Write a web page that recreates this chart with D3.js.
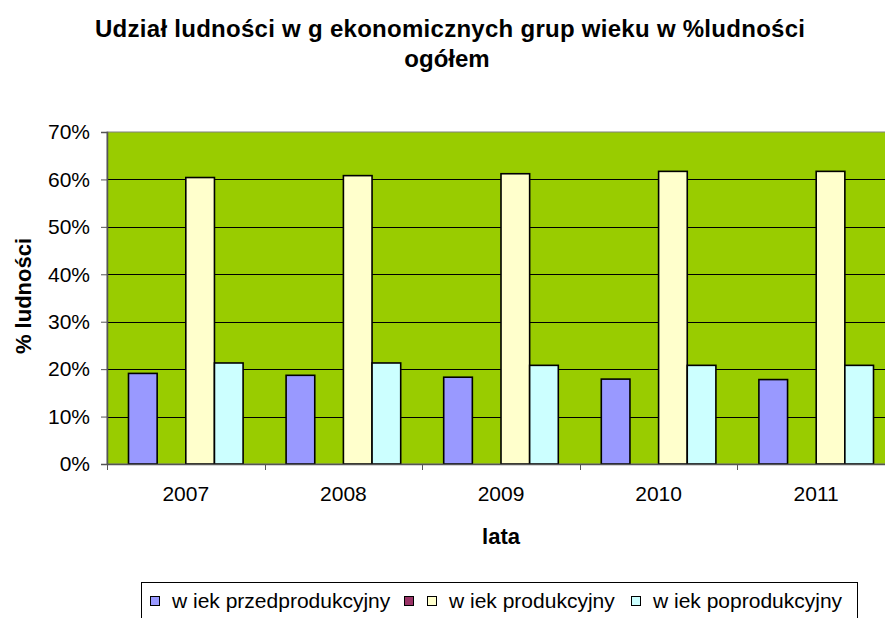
<html>
  <head>
    <script src="https://d3js.org/d3.v7.min.js"></script>
  </head>
  <style type="text/css">
    body {
      margin: 0;
      background: #fff;
    }
    svg {
      font-family: "Liberation Sans", Arial, sans-serif;
    }
    .axis-title {
      font-size: 22px;
      font-weight: bold;
    }
    .legend-text {
      font-size: 21px;
    }
  </style>
  <body>
    <div id="chart"></div>
  </body>
  <script type="text/javascript">
    var years = ["2007", "2008", "2009", "2010", "2011"];
    var seriesNames = ["w iek przedprodukcyjny", "", "w iek produkcyjny", "w iek poprodukcyjny"];
    var seriesColors = ["#9999FF", "#993366", "#FFFFCC", "#CCFFFF"];
    // the second series has no values (shows up only in the legend)
    var przedprodukcyjny = [19.1, 18.7, 18.3, 17.9, 17.8];
    var pusty = [null, null, null, null, null];
    var produkcyjny = [60.4, 60.8, 61.2, 61.7, 61.7];
    var poprodukcyjny = [21.3, 21.3, 20.8, 20.8, 20.8];
    var yTicks = [0, 10, 20, 30, 40, 50, 60, 70];

    var values = [przedprodukcyjny, pusty, produkcyjny, poprodukcyjny];

    var width = 885;
    var height = 618;
    var plot = {left: 107, top: 132, right: 895, bottom: 464};

    var svg = d3.select("#chart").append("svg")
      .attr("width", width)
      .attr("height", height);

    /* Title */
    var title = svg.append("text")
      .attr("text-anchor", "middle")
      .style("font-size", "24px")
      .style("font-weight", "bold");
    title.append("tspan")
      .attr("x", 450).attr("y", 37)
      .attr("textLength", 710)
      .attr("lengthAdjust", "spacing")
      .text("Udział ludności w g ekonomicznych grup wieku w %ludności");
    title.append("tspan")
      .attr("x", 447).attr("y", 67)
      .text("ogółem");

    /* Scales */
    var x0 = d3.scaleBand()
      .domain(years)
      .range([plot.left, plot.right])
      .paddingInner(0)
      .paddingOuter(0);

    var groupPad = 21.5;
    var x1 = d3.scaleBand()
      .domain(d3.range(seriesNames.length))
      .range([groupPad, x0.bandwidth() - groupPad]);

    var yScale = d3.scaleLinear()
      .domain([0, 70])
      .range([plot.bottom, plot.top]);

    /* Plot area */
    svg.append("rect")
      .attr("x", plot.left)
      .attr("y", plot.top)
      .attr("width", plot.right - plot.left)
      .attr("height", plot.bottom - plot.top)
      .attr("fill", "#99CC00")
      .attr("stroke", "#808080")
      .attr("stroke-width", 1);

    /* Gridlines */
    svg.append("g")
      .selectAll("line")
      .data(yTicks.slice(1, -1))
      .enter().append("line")
      .attr("x1", plot.left)
      .attr("x2", plot.right)
      .attr("y1", d => Math.round(yScale(d)) + 0.5)
      .attr("y2", d => Math.round(yScale(d)) + 0.5)
      .attr("stroke", "#000")
      .attr("stroke-width", 1);

    /* Bars */
    var groups = svg.append("g")
      .selectAll("g")
      .data(years)
      .enter().append("g")
      .attr("transform", d => `translate(${x0(d)},0)`);

    groups.selectAll("rect")
      .data((d, i) => values.map((s, k) => ({k: k, v: s[i]})).filter(d => d.v != null))
      .enter().append("rect")
      .attr("x", d => x1(d.k))
      .attr("y", d => yScale(d.v))
      .attr("width", x1.bandwidth())
      .attr("height", d => plot.bottom - yScale(d.v))
      .attr("fill", d => seriesColors[d.k])
      .attr("stroke", "#000")
      .attr("stroke-width", 1.6);

    /* Axes */
    var yAxis = d3.axisLeft(yScale)
      .tickValues(yTicks)
      .tickSize(6)
      .tickPadding(11)
      .tickFormat(d => d + "%");

    var yg = svg.append("g")
      .attr("transform", `translate(${plot.left},0)`)
      .call(yAxis);
    yg.select(".domain").attr("stroke", "#555").attr("stroke-width", 1.5);
    yg.selectAll(".tick line").attr("stroke", "#555");
    yg.selectAll(".tick text")
      .style("font-size", "21px")
      .attr("fill", "#000");

    var xAxis = d3.axisBottom(x0)
      .tickSize(0)
      .tickPadding(22);

    var xg = svg.append("g")
      .attr("transform", `translate(0,${plot.bottom})`)
      .call(xAxis);
    xg.select(".domain").attr("stroke", "#555").attr("stroke-width", 1.5);
    xg.selectAll(".tick text")
      .style("font-size", "21px")
      .attr("fill", "#000");

    // category separators
    xg.append("g")
      .selectAll("line")
      .data(years)
      .enter().append("line")
      .attr("x1", d => Math.round(x0(d)) + 0.5)
      .attr("x2", d => Math.round(x0(d)) + 0.5)
      .attr("y1", 0)
      .attr("y2", 6)
      .attr("stroke", "#555");

    svg.selectAll(".tick text").style("font-family", "'Liberation Sans', Arial, sans-serif");

    /* Axis titles */
    svg.append("text")
      .attr("class", "axis-title")
      .attr("text-anchor", "middle")
      .attr("transform", "translate(31,296) rotate(-90)")
      .text("% ludności");

    svg.append("text")
      .attr("class", "axis-title")
      .attr("text-anchor", "middle")
      .attr("x", 501)
      .attr("y", 544)
      .text("lata");

    /* Legend */
    var legend = svg.append("g");
    legend.append("rect")
      .attr("x", 141.5)
      .attr("y", 582.5)
      .attr("width", 716)
      .attr("height", 40)
      .attr("fill", "#fff")
      .attr("stroke", "#000");

    var legendX = [150, 404, 427, 631];
    var items = legend.selectAll(".item")
      .data(seriesNames)
      .enter().append("g")
      .attr("class", "item")
      .attr("transform", (d, i) => `translate(${legendX[i]},601)`);

    items.append("rect")
      .attr("x", 0.5)
      .attr("y", -4.5)
      .attr("width", 9)
      .attr("height", 9)
      .attr("fill", (d, i) => seriesColors[i])
      .attr("stroke", "#000");

    items.append("text")
      .attr("class", "legend-text")
      .attr("x", 22)
      .attr("y", 7)
      .text(d => d);
  </script>
</html>
